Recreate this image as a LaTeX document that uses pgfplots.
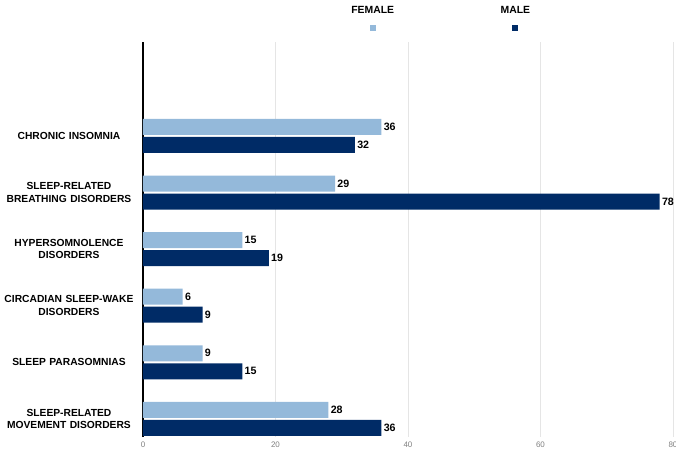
\documentclass[border=0pt]{standalone}
\usepackage{pgfplots}
\pgfplotsset{compat=1.18}
\usepackage{fontspec}
\setmainfont{Liberation Sans}
\definecolor{fem}{HTML}{94B9DA}
\definecolor{mal}{HTML}{002B66}
\begin{document}
\begin{tikzpicture}
\path[use as bounding box] (-107.25pt,-10.5pt) rectangle (399.75pt,327.75pt);
\begin{axis}[
 scale only axis, width=397.5pt, height=296.25pt,
 xbar, xmin=0, xmax=80, ymin=-0.32, ymax=6.66,
 axis x line*=bottom, axis y line*=left,
 x axis line style={draw=none},
 y axis line style={black, line width=1.3pt},
 xtick={0,20,40,60,80}, ytick={0,1,2,3,4,5},
 yticklabels={SLEEP-RELATED\\MOVEMENT DISORDERS, SLEEP PARASOMNIAS, CIRCADIAN SLEEP-WAKE\\DISORDERS, HYPERSOMNOLENCE\\DISORDERS, SLEEP-RELATED\\BREATHING DISORDERS, CHRONIC INSOMNIA},
 yticklabel style={align=center, font=\bfseries\fontsize{7.7}{9.5}\selectfont, text width=100pt, xshift=-2pt},
 xticklabel style={font=\fontsize{6}{7}\selectfont, text=gray},
 /pgf/number format/assume math mode=true,
 xmajorgrids, major grid style={color=black!10, line width=0.4pt},
 major tick length=0pt,
 bar width=12pt,
 nodes near coords,
 nodes near coords style={font=\bfseries\fontsize{8}{9}\selectfont, anchor=west, inner sep=1.5pt, text=black},
 legend style={draw=none, legend columns=2, at={(0.568,1)}, anchor=south, yshift=10pt, font=\bfseries\fontsize{7.8}{9}\selectfont},
 legend image code/.code={},
]
\addplot[fill=fem, draw=none, bar shift=6.75pt] coordinates {(28,0) (9,1) (6,2) (15,3) (29,4) (36,5)};
\addlegendentry{\parbox{103pt}{\centering FEMALE\\[4pt]\textcolor{fem}{\rule{4.5pt}{4.5pt}}}}
\addplot[fill=mal, draw=none, bar shift=-6.75pt] coordinates {(36,0) (15,1) (9,2) (19,3) (78,4) (32,5)};
\addlegendentry{\parbox{103pt}{\centering MALE\\[4pt]\textcolor{mal}{\rule{4.5pt}{4.5pt}}}}
\end{axis}
\end{tikzpicture}
\end{document}
